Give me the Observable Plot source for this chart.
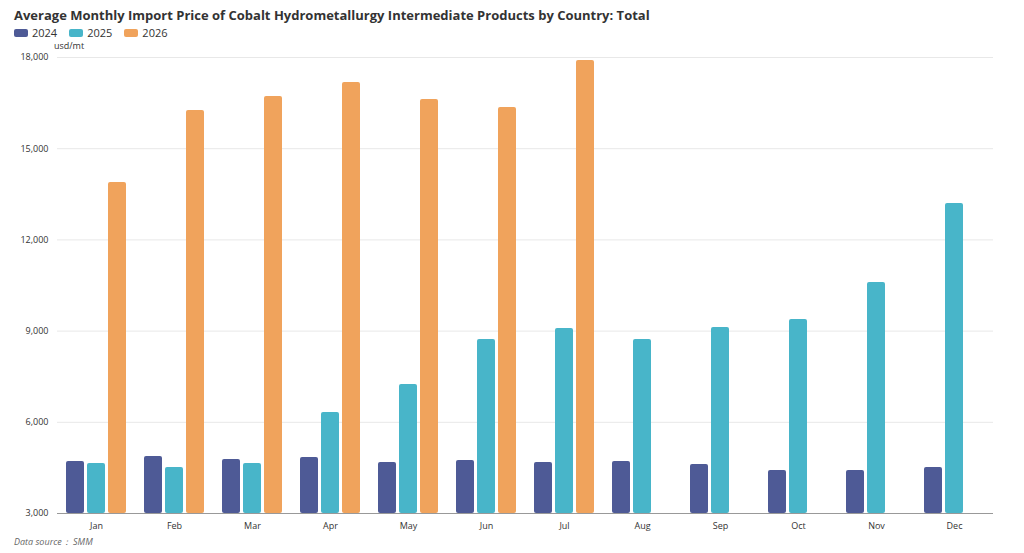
<!DOCTYPE html>
<html><head><meta charset="utf-8">
<script src="https://cdn.jsdelivr.net/npm/d3@7"></script>
<script src="https://cdn.jsdelivr.net/npm/@observablehq/plot@0.6"></script>
<style>
body{margin:0;font-family:"Open Sans",sans-serif;background:#fff;width:1024px;height:553px;overflow:hidden;position:relative}
#title{position:absolute;left:14px;top:6px;font-size:13px;font-weight:bold;color:#333}
#legend{position:absolute;left:14px;top:25px;font-size:11px;color:#333;display:flex;gap:12px}
#legend span{display:flex;align-items:center;gap:4px}
#legend i{display:inline-block;width:14px;height:8px;border-radius:2px}
#unit{position:absolute;left:54px;top:39px;font-size:9px;color:#333}
#chart{position:absolute;left:0;top:50px}
#cap{position:absolute;left:14px;top:535px;font-size:9px;font-style:italic;color:#666}
</style></head><body>
<div id="title">Average Monthly Import Price of Cobalt Hydrometallurgy Intermediate Products by Country: Total</div>
<div id="legend"></div>
<div id="unit">usd/mt</div>
<div id="chart"></div>
<div id="cap">Data source： SMM</div>
<script>
const months=["Jan","Feb","Mar","Apr","May","Jun","Jul","Aug","Sep","Oct","Nov","Dec"];
const series=["2024","2025","2026"];
const colors=["#4e5a96","#48b5c9","#f0a35c"];
const v2024=[4710,4875,4776,4842,4678,4743,4678,4710,4612,4414,4414,4513];
const v2025=[4645,4513,4645,6322,7243,8724,9085,8724,9118,9381,10599,13197];
const v2026=[13888,16257,16717,17178,16618,16355,17901];
const yTicks=[3000,6000,9000,12000,15000,18000];
const data=[];
[v2024,v2025,v2026].forEach((arr,i)=>arr.forEach((v,j)=>data.push({month:months[j],series:series[i],value:v})));
document.getElementById("legend").innerHTML=series.map((s,i)=>`<span><i style="background:${colors[i]}"></i>${s}</span>`).join("");
const chart=Plot.plot({
  width:1024,height:488,marginLeft:57,marginRight:31,marginTop:7,marginBottom:25,
  style:{fontFamily:"Open Sans",fontSize:"9px",color:"#333"},
  fx:{domain:months,padding:0,label:null,axis:"bottom",tickSize:0},
  x:{domain:series,axis:null,paddingInner:0.15,paddingOuter:0.41},
  y:{domain:[3000,18000],ticks:yTicks,tickFormat:d3.format(","),label:null,tickSize:0},
  color:{domain:series,range:colors},
  marks:[
    Plot.ruleY(yTicks.slice(1),{stroke:"#e8e8e8"}),
    Plot.barY(data,{fx:"month",x:"series",y1:3000,y2:"value",fill:"series",rx:2}),
    Plot.ruleY([3000],{stroke:"#999"})
  ]
});
document.getElementById("chart").appendChild(chart);
</script></body></html>
